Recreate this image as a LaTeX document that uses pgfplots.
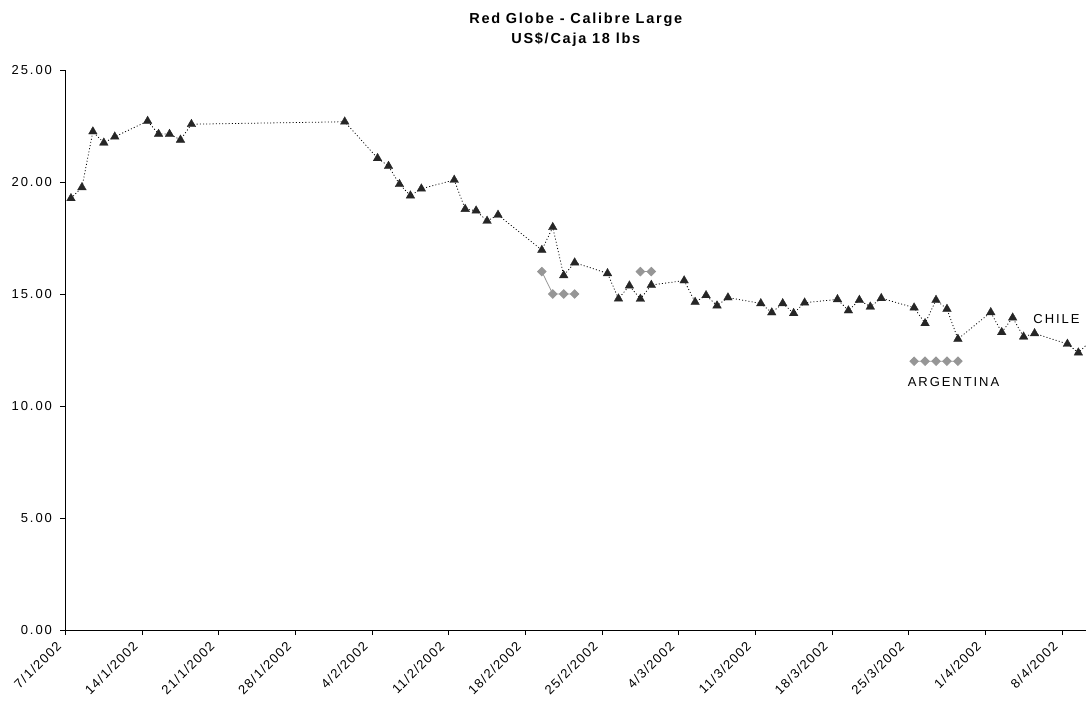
\documentclass[border=0pt]{standalone}
\usepackage{fontspec}
\setmainfont{Liberation Sans}
\newfontfamily\tickfont[LetterSpace=15]{Liberation Sans}
\newfontfamily\xtickfont[LetterSpace=10]{Liberation Sans}
\newfontfamily\titlefont[LetterSpace=12]{Liberation Sans}
\usepackage{pgfplots}
\pgfplotsset{compat=1.18}
\definecolor{chile}{HTML}{262626}
\definecolor{arg}{HTML}{969696}
\begin{document}
\begin{tikzpicture}
\useasboundingbox (-65.5pt,-74pt) rectangle (1020.5pt,630pt);
\begin{axis}[
  scale only axis,
  width=1020.5pt, height=560pt,
  xmin=0, xmax=93.2, ymin=0, ymax=25,
  axis x line=bottom, axis y line=left,
  axis line style={-, black, line width=0.8pt},
  tick align=outside,
  major tick length=5pt,
  tick style={black, line width=0.8pt},
  xtick={0,7,14,21,28,35,42,49,56,63,70,77,84,91},
  xticklabels={7/1/2002,14/1/2002,21/1/2002,28/1/2002,4/2/2002,11/2/2002,18/2/2002,25/2/2002,4/3/2002,11/3/2002,18/3/2002,25/3/2002,1/4/2002,8/4/2002},
  ytick={0,5,10,15,20,25},
  yticklabel style={/pgf/number format/fixed, /pgf/number format/fixed zerofill, /pgf/number format/precision=2, xshift=-5pt, font=\tickfont\fontsize{13}{15}\selectfont},
  /pgf/number format/assume math mode=true,
  tick label style={text=black},
  xticklabel style={font=\xtickfont\fontsize{13}{15}\selectfont, xshift=-6pt, yshift=-8pt, rotate=45, anchor=east, inner sep=1pt},
  title={Red Globe - Calibre Large\\US\$/Caja 18 lbs},
  title style={align=center, font=\titlefont\bfseries\fontsize{14.5}{20}\selectfont, anchor=south, at={(0.5,1)}, inner sep=0pt, yshift=17pt},
  clip marker paths=true,
  unbounded coords=jump,
]
\addplot[color=arg, line width=0.8pt, mark=square*, mark size=3pt, mark options={rotate=45, fill=arg, draw=arg}] coordinates {
(43.5,16.0) (44.5,15.0) (45.5,15.0) (46.5,15.0) (50,nan)
(52.5,16.0) (53.5,16.0) (60,nan)
(77.5,12.0) (78.5,12.0) (79.5,12.0) (80.5,12.0) (81.5,12.0)
};
\addplot[color=black, line width=0.8pt, dash pattern=on 1pt off 2.2pt, mark=triangle*, mark size=5pt, mark options={solid, fill=chile, draw=chile, line width=0.3pt}] coordinates {
(0.5,19.27) (1.5,19.76) (2.5,22.25) (3.5,21.75) (4.5,22.02)
(7.5,22.72) (8.5,22.14) (9.5,22.14) (10.5,21.88) (11.5,22.58)
(25.5,22.69)
(28.5,21.06) (29.5,20.71) (30.5,19.90) (31.5,19.39) (32.5,19.70)
(35.5,20.09) (36.5,18.79) (37.5,18.72) (38.5,18.26) (39.5,18.53)
(43.5,16.96) (44.5,17.98) (45.5,15.83) (46.5,16.40)
(49.5,15.92) (50.5,14.79) (51.5,15.37) (52.5,14.78) (53.5,15.40)
(56.5,15.60) (57.5,14.64) (58.5,14.94) (59.5,14.48) (60.5,14.84)
(63.5,14.58) (64.5,14.17) (65.5,14.58) (66.5,14.14) (67.5,14.61)
(70.5,14.76) (71.5,14.26) (72.5,14.73) (73.5,14.43) (74.5,14.81)
(77.5,14.39) (78.5,13.69) (79.5,14.73) (80.5,14.33) (81.5,12.99)
(84.5,14.18) (85.5,13.29) (86.5,13.94) (87.5,13.09) (88.5,13.24)
(91.5,12.77) (92.5,12.38) (93.5,12.85)
};
\node[font=\tickfont\fontsize{13}{15}\selectfont] at (axis cs:90.5,13.88) {CHILE};
\node[font=\tickfont\fontsize{13}{15}\selectfont] at (axis cs:81.1,11.07) {ARGENTINA};
\end{axis}
\end{tikzpicture}
\end{document}
